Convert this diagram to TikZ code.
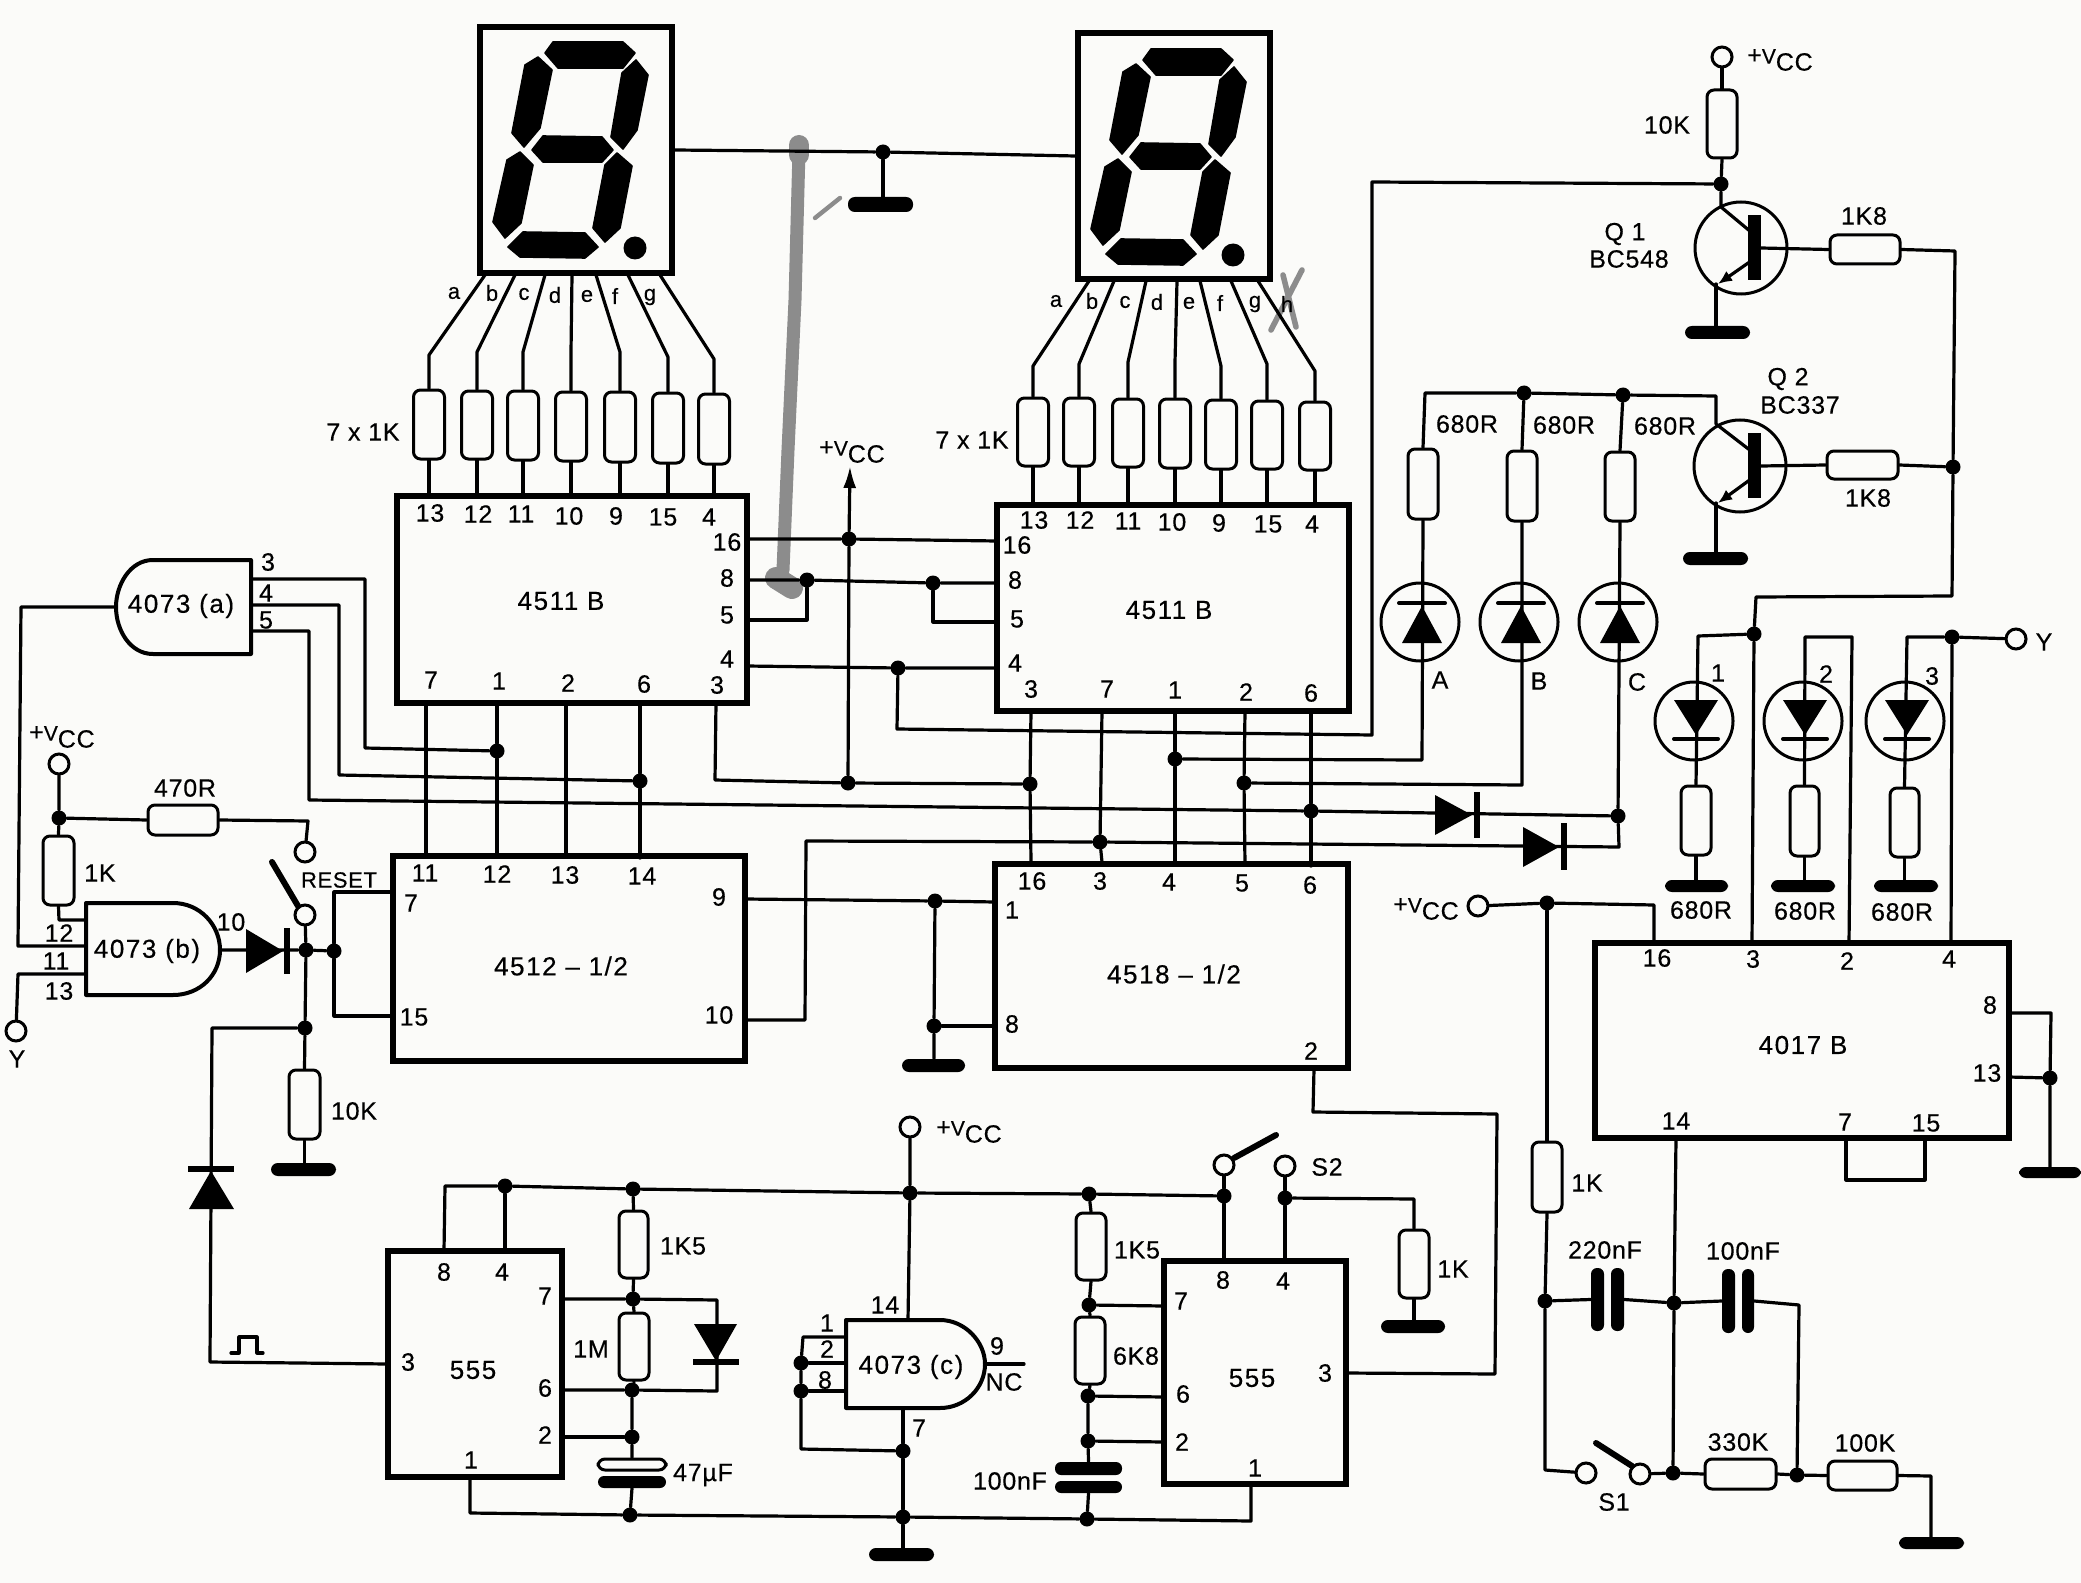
\documentclass[tikz,border=0pt]{standalone}
\usepackage{fontspec}
\setmainfont[FakeBold=0.4,LetterSpace=3]{Liberation Sans}
\newfontfamily\icfont[LetterSpace=6,FakeBold=0.4]{Liberation Sans}
\usetikzlibrary{arrows.meta}
\definecolor{paper}{RGB}{251,251,249}
\newcommand\cmpbox[6]{\pgfmathsetmacro\cmpx{(#3+#5)/2}\pgfmathsetmacro\cmpy{(#4+#6)/2}\pgfmathsetmacro\cmpw{abs(#5-#3)*0.5}\pgfmathsetmacro\cmph{abs(#6-#4)*0.5}\node[#1,minimum width=\cmpw pt,minimum height=\cmph pt] (#2) at (\cmpx,\cmpy) {};}
\newcommand\vccT{+{\fontsize{10.5}{10}\selectfont V}\raisebox{-3.5pt}{CC}}
\tikzset{
 wire/.style={line width=1.6pt,line join=round,line cap=round},
 heavy/.style={line width=3pt,line cap=round},
 icbox/.style={draw,line width=3.4pt,inner sep=0},
 dispbox/.style={draw,line width=2.8pt,inner sep=0},
 res/.style={draw,line width=1.5pt,rounded corners=3.5pt,inner sep=0},
 gnd/.style={fill=black,rounded corners=3.4pt,inner sep=0},
 plate/.style={fill=black,rounded corners=3pt,inner sep=0},
 jdot/.style={circle,fill=black,inner sep=0,minimum size=7.5pt},
 term/.style={circle,draw,line width=1.5pt,inner sep=0,minimum size=10pt},
 lampc/.style={circle,draw,line width=1.5pt,inner sep=0,minimum size=39pt},
 trans/.style={circle,draw,line width=1.5pt,inner sep=0,minimum size=46pt},
 gate/.style={draw,line width=2pt,line join=round},
 segm/.style={fill=black,draw=black,line width=0.8pt,line join=round},
 pinlbl/.style={font=\fontsize{12.5}{14}\selectfont,inner sep=0},
 smalllbl/.style={font=\fontsize{11}{13}\selectfont,inner sep=0},
 iclbl/.style={font=\fontsize{13}{15}\selectfont\icfont,inner sep=0},
 marker/.style={draw=black!45,line cap=round,line join=round},
 sevenseg/.pic={
  \path[segm] (545,53)--(553,42)--(623,42)--(635,53)--(623,68)--(558,68)--cycle;
  \path[segm] (636,60)--(648,75)--(637,130)--(623,149)--(611,137)--(622,73)--cycle;
  \path[segm] (538,57)--(552,70)--(540,128)--(524,147)--(512,133)--(525,65)--cycle;
  \path[segm] (532,150)--(543,136)--(602,137)--(613,150)--(602,162)--(543,162)--cycle;
  \path[segm] (520,152)--(533,165)--(521,223)--(505,238)--(493,222)--(507,160)--cycle;
  \path[segm] (617,153)--(632,166)--(620,228)--(605,242)--(593,228)--(605,165)--cycle;
  \path[segm] (508,247)--(523,232)--(585,233)--(598,247)--(585,258)--(520,257)--cycle;
  \fill[black] (635,248) circle[radius=11.5];
 }
}
\begin{document}
\begin{tikzpicture}[x=0.5pt,y=-0.5pt]
\path[use as bounding box,fill=paper] (0,0) rectangle (2081,1583);

% pen marks on the print
\draw[marker,line width=6.5pt] (799,150)--(795,300)--(788,450)--(783,570);
\draw[marker,line width=10pt] (799,145)--(799,155);
\draw[marker,line width=11pt] (776,578)--(792,588);
\draw[marker,line width=2.2pt] (815,218)--(840,198);
\draw[marker,line width=2.8pt] (1302,270)--(1271,330);
\draw[marker,line width=2.8pt] (1283,275)--(1296,327);

% displays
\cmpbox{dispbox}{D1}{480}{27}{672}{273}
\cmpbox{dispbox}{D2}{1078}{33}{1270}{279}
\pic {sevenseg};
\pic at (598,7) {sevenseg};

% integrated circuits
\cmpbox{icbox}{A}{397}{496}{747}{703}
\cmpbox{icbox}{B}{997}{505}{1349}{711}
\cmpbox{icbox}{C}{393}{856}{745}{1061}
\cmpbox{icbox}{E}{995}{864}{1348}{1068}
\cmpbox{icbox}{T1}{388}{1251}{562}{1477}
\cmpbox{icbox}{T2}{1164}{1261}{1346}{1484}
\cmpbox{icbox}{F}{1595}{943}{2009}{1138}

% gates
\draw[gate] (251,560)--(153,560) .. controls (130,560) and (116,585) .. (116,607) .. controls (116,630) and (130,654) .. (153,654)--(251,654)--cycle;
\draw[gate] (86,903)--(173,903) .. controls (200,903) and (220,925) .. (220,950) .. controls (220,975) and (200,995) .. (173,995)--(86,995)--cycle;
\draw[gate] (846,1320)--(940,1320) .. controls (965,1320) and (985,1342) .. (985,1364) .. controls (985,1388) and (965,1408) .. (940,1408)--(846,1408)--cycle;
\node[iclbl] (gatea) at (181,606) {4073 (a)};
\node[iclbl] (gateb) at (147,951) {4073 (b)};
\node[iclbl] (gatec) at (911,1367) {4073 (c)};

% segment resistors and their leads
\foreach \i/\t/\k/\x/\u/\v in {1/485/355/429/390/459,2/515/352/477/391/459,3/545/352/523/391/460,4/572/352/571/392/461,5/596/352/620/392/462,6/628/357/668/393/463,7/660/359/714/394/464}{
  \pgfmathsetmacro\xl{\x-15.5}\pgfmathsetmacro\xr{\x+15.5}
  \cmpbox{res}{ra\i}{\xl}{\u}{\xr}{\v}
  \draw[wire] (\t,275)--(\x,\k)--(ra\i.north);
  \draw[wire] (ra\i.south)--(ra\i.south |- A.north);
}
\foreach \i/\t/\k/\x/\u/\v in {1/1089/366/1033/398/466,2/1114/364/1079/398/466,3/1146/362/1128/399/467,4/1177/362/1175/399/468,5/1200/366/1221/400/469,6/1231/364/1267/401/469,7/1258/371/1315/402/470}{
  \pgfmathsetmacro\xl{\x-15.5}\pgfmathsetmacro\xr{\x+15.5}
  \cmpbox{res}{rb\i}{\xl}{\u}{\xr}{\v}
  \draw[wire] (\t,281)--(\x,\k)--(rb\i.north);
  \draw[wire] (rb\i.south)--(rb\i.south |- B.north);
}

% other resistors
\cmpbox{res}{r470}{148}{805}{218}{835}
\cmpbox{res}{rk}{43}{836}{74}{905}
\cmpbox{res}{rten}{289}{1070}{320}{1139}
\cmpbox{res}{rfa}{619}{1211}{648}{1278}
\cmpbox{res}{rm}{619}{1313}{649}{1380}
\cmpbox{res}{rfb}{1076}{1213}{1106}{1280}
\cmpbox{res}{rsk}{1075}{1317}{1105}{1384}
\cmpbox{res}{rs}{1399}{1230}{1429}{1298}
\cmpbox{res}{rv}{1707}{90}{1737}{158}
\cmpbox{res}{rqa}{1830}{235}{1900}{264}
\cmpbox{res}{rqb}{1827}{451}{1898}{479}
\cmpbox{res}{rA}{1408}{449}{1438}{519}
\cmpbox{res}{rB}{1507}{451}{1537}{521}
\cmpbox{res}{rC}{1605}{452}{1635}{521}
\cmpbox{res}{rla}{1681}{786}{1711}{855}
\cmpbox{res}{rlb}{1790}{786}{1819}{856}
\cmpbox{res}{rlc}{1890}{788}{1919}{857}
\cmpbox{res}{rkc}{1532}{1142}{1562}{1212}
\cmpbox{res}{rth}{1705}{1459}{1776}{1489}
\cmpbox{res}{rhu}{1828}{1461}{1897}{1490}

% grounds
\cmpbox{gnd}{ga}{848}{197}{913}{212}
\cmpbox{gnd}{gb}{902}{1059}{965}{1072}
\cmpbox{gnd}{gc}{271}{1163}{336}{1176}
\cmpbox{gnd}{gd}{869}{1548}{934}{1561}
\cmpbox{gnd}{ge}{1381}{1320}{1445}{1333}
\cmpbox{gnd}{gf}{1685}{326}{1750}{339}
\cmpbox{gnd}{gg}{1683}{552}{1748}{565}
\cmpbox{gnd}{gh}{1665}{880}{1728}{892}
\cmpbox{gnd}{gi}{1771}{880}{1835}{892}
\cmpbox{gnd}{gj}{1874}{880}{1938}{892}
\cmpbox{gnd}{gk}{2019}{1167}{2081}{1178}
\cmpbox{gnd}{gl}{1899}{1537}{1964}{1549}

% capacitors
\cmpbox{res}{cua}{598}{1459}{666}{1470}
\cmpbox{plate}{cub}{598}{1476}{666}{1488}
\cmpbox{plate}{cna}{1055}{1462}{1122}{1475}
\cmpbox{plate}{cnb}{1055}{1481}{1122}{1493}
\cmpbox{plate}{cpa}{1591}{1268}{1604}{1331}
\cmpbox{plate}{cpb}{1611}{1268}{1624}{1331}
\cmpbox{plate}{cqa}{1722}{1269}{1735}{1333}
\cmpbox{plate}{cqb}{1742}{1269}{1754}{1333}

% terminals
\node[term] (tvl) at (59,764) {};
\node[term] (trs) at (305,852) {};
\node[term] (tsw) at (305,915) {};
\node[term] (tyl) at (16,1031) {};
\node[term] (tvc) at (910,1127) {};
\node[term] (tsa) at (1224,1165) {};
\node[term] (tsb) at (1285,1166) {};
\node[term] (tvq) at (1722,57) {};
\node[term] (tyr) at (2016,639) {};
\node[term] (tvf) at (1478,906) {};
\node[term] (tsc) at (1586,1473) {};
\node[term] (tsd) at (1640,1474) {};

% junctions
\foreach \n/\x/\y in {jc/883/152,j16/849/539,j8a/807/580,j8b/933/583,j4b/898/668,jab/848/783,jb3/1030/784,
  jsa/497/751,jsb/640/781,j7/1100/842,jA/1175/759,jB/1244/783,j6/1311/811,jg/935/901,jgb/934/1026,
  jv/59/818,jd/306/950,jr/334/951,jl/305/1028,
  ra/505/1186,rb/633/1189,rc/910/1193,rd/1089/1194,re/1224/1196,js/1285/1198,
  jsev/633/1299,jsix/632/1390,jtwo/632/1437,jba/630/1515,jbb/903/1517,jbc/1087/1519,
  jcd/801/1363,jce/801/1391,jcf/903/1451,
  juv/1089/1305,jus/1088/1396,jut/1088/1441,
  jqa/1721/184,jqb/1953/467,jrb/1524/393,jrc/1623/395,jdc/1618/816,
  jla/1754/634,jy/1952/637,jvf/1547/903,jk/1545/1301,jfa/1674/1303,jfb/1673/1473,jfc/1797/1475,jfd/2050/1078}{
  \node[jdot] (\n) at (\x,\y) {};
}

% pin points
\foreach \n/\x/\y in {a16/747/539,a8/747/580,a5/747/620,a4/747/666,a3/716/703,a7/426/703,a1/497/703,a2/566/703,a6/640/703,
  b16/997/541,b8/997/583,b5/997/622,b4/997/668,b3/1031/711,b7/1102/711,b1/1175/711,b2/1245/711,b6/1311/711,
  c11/426/855,c12/497/856,c13/566/857,c14/640/858,c7/393/892,c15/393/1016,c9/745/899,c10/745/1020,
  e16/1031/862,e3/1102/862,e4/1175/864,e5/1245/865,e6/1311/866,e1/995/902,e8/995/1026,e2/1314/1069,
  tah/444/1251,taf/505/1251,tas/562/1299,tax/562/1390,tat/562/1437,tao/470/1477,tac/388/1364,
  tbh/1224/1261,tbf/1285/1261,tbs/1164/1306,tbx/1164/1397,tbt/1164/1442,tbo/1251/1484,tbc/1346/1373,
  f16/1654/943,f3/1752/943,f2/1849/943,f4/1951/943,f8/2009/1013,f13/2009/1077,f14/1676/1138,f7/1846/1138,f15/1925/1138,
  gaa/251/579,gab/251/605,gac/251/631,gao/116/607,gbb/84/920,gbc/84/946,gbd/84/974,gbo/220/950,
  gcv/908/1320,gcg/903/1408,gcp/846/1337,gcq/846/1363,gcr/846/1391,gco/985/1364,gcn/1024/1364,
  vtip/850/466}{
  \coordinate (\n) at (\x,\y);
}

% wires: displays
\draw[wire] (D1.east)--(jc)--(D2.west);
\draw[wire] (jc)--(jc |- ga.north);

% wires: 4511 to 4511
\draw[wire] (a16)--(j16)--(b16);
\draw[wire,-{Latex[length=11pt,width=6.5pt]}] (jab)--(j16)--(vtip);
\draw[wire] (a8)--(j8a)--(j8b)--(b8);
\draw[wire] (a5)--(807,620)--(j8a);
\draw[wire] (j8b)--(933,622)--(b5);
\draw[wire] (a4)--(j4b)--(b4);
\draw[wire] (j4b)--(897,729)--(1372,735)--(1372,182)--(jqa);
\draw[wire] (a3)--(715,780)--(jab)--(jb3);
\draw[wire] (b3)--(jb3)--(e16);
\draw[wire] (b7)--(j7)--(e3);
\draw[wire] (b1)--(jA)--(e4);
\draw[wire] (b2)--(jB)--(e5);
\draw[wire] (b6)--(j6)--(e6);
\draw[wire] (a7)--(c11);
\draw[wire] (a1)--(jsa)--(c12);
\draw[wire] (a2)--(c13);
\draw[wire] (a6)--(jsb)--(c14);

% wires: 4073 (a)
\draw[wire] (gaa)--(365,579)--(365,748)--(jsa);
\draw[wire] (gab)--(339,605)--(339,775)--(jsb);
\draw[wire] (gac)--(309,631)--(309,800)--(j6)--(jdc);
\draw[wire] (gao)--(21,607)--(18,946)--(gbc);

% wires: 4073 (b), reset
\draw[wire] (tvl)--(jv)--(rk.north);
\draw[wire] (jv)--(r470.west);
\draw[wire] (r470.east)--(308,821)--(trs);
\draw[wire] (rk.south)--(59,920)--(gbb);
\draw[wire] (gbd)--(18,974)--(tyl);
\draw[wire] (gbo)--(jd)--(jr);
\draw[wire] (tsw)--(jd)--(jl)--(rten.north);
\draw[wire] (rten.south)--(rten.south |- gc.north);
\draw[wire] (jr)--(334,892)--(c7);
\draw[wire] (jr)--(334,1016)--(c15);
\draw[wire] (jl)--(212,1028)--(210,1362)--(tac);
\draw[heavy] (tsw)++(-7,-9)--(272,862);

% wires: 4512 to 4518
\draw[wire] (c9)--(jg)--(e1);
\draw[wire] (jg)--(jgb)--(jgb |- gb.north);
\draw[wire] (jgb)--(e8);
\draw[wire] (c10)--(805,1020)--(806,841)--(j7)--(1619,847)--(jdc)--(rC.south);
\draw[wire] (e2)--(1313,1112)--(1497,1114)--(1495,1374)--(tbc);

% wires: lamps A, B, C
\draw[wire] (jA)--(1422,760)--(rA.south);
\draw[wire] (jB)--(1522,785)--(rB.south);
\draw[wire] (rA.north)--(1425,393)--(jrb)--(jrc)--(1716,396)--(1716,424)--(1751,451);
\draw[wire] (jrb)--(rB.north);
\draw[wire] (jrc)--(rC.north);

% wires: transistors
\draw[wire] (tvq)--(rv.north);
\draw[wire] (rv.south)--(jqa)--(1721,207)--(1751,232);
\draw[wire,-{Latex[length=7pt,width=6pt]}] (1751,261)--(1718,284);
\draw[wire] (1716,284)--(1716,326);
\draw[wire] (1761,248)--(rqa.west);
\draw[wire] (rqa.east)--(1955,251)--(jqb)--(1952,596)--(1756,597)--(jla)--(f3);
\draw[wire,-{Latex[length=7pt,width=6pt]}] (1751,479)--(1718,503);
\draw[wire] (1716,503)--(1716,552);
\draw[wire] (1761,466)--(rqb.west);
\draw[wire] (rqb.east)--(jqb);

% wires: lamps 1, 2, 3
\draw[wire] (jla)--(1698,636)--(rla.north);
\draw[wire] (f2)--(1852,637)--(1805,637)--(rlb.north);
\draw[wire] (rlc.north)--(1907,637)--(jy)--(tyr);
\draw[wire] (jy)--(f4);
\draw[wire] (rla.south)--(rla.south |- gh.north);
\draw[wire] (rlb.south)--(rlb.south |- gi.north);
\draw[wire] (rlc.south)--(rlc.south |- gj.north);

% wires: 4017
\draw[wire] (tvf)--(jvf)--(1654,905)--(f16);
\draw[wire] (jvf)--(rkc.north);
\draw[wire] (rkc.south)--(jk)--(1545,1470)--(tsc);
\draw[wire] (jk)--(cpa.west);
\draw[wire] (cpb.east)--(jfa)--(cqa.west);
\draw[wire] (f14)--(jfa)--(jfb);
\draw[wire] (cqb.east)--(1799,1305)--(jfc);
\draw[wire] (tsd)--(jfb)--(rth.west);
\draw[wire] (rth.east)--(jfc)--(rhu.west);
\draw[wire] (rhu.east)--(1931,1476)--(1931,1537);
\draw[wire] (f8)--(2051,1013)--(jfd)--(2050,1167);
\draw[wire] (f13)--(jfd);
\draw[wire] (f7)--(1846,1180)--(1925,1180)--(f15);
\draw[heavy] (1596,1443)--(1632,1466);

% wires: rail
\draw[wire] (tah)--(445,1186)--(ra)--(rb)--(rc)--(rd)--(re);
\draw[wire] (ra)--(taf);
\draw[wire] (rb)--(rfa.north);
\draw[wire] (rfa.south)--(jsev)--(rm.north);
\draw[wire] (rm.south)--(jsix)--(jtwo)--(cua.north);
\draw[wire] (cub.south)--(jba);
\draw[wire] (tas)--(jsev)--(717,1300)--(717,1391)--(jsix)--(tax);
\draw[wire] (tat)--(jtwo);
\draw[wire] (tao)--(470,1513)--(jba)--(jbb)--(jbc)--(1251,1521)--(tbo);
\draw[wire] (tvc)--(rc)--(gcv);
\draw[wire] (gcg)--(jcf)--(jbb)--(jbb |- gd.north);
\draw[wire] (gcp)--(803,1337)--(jcd)--(jce)--(801,1449)--(jcf);
\draw[wire] (gcq)--(jcd);
\draw[wire] (gcr)--(jce);
\draw[wire] (gco)--(gcn);

% wires: second 555
\draw[wire] (tsa)--(re)--(tbh);
\draw[heavy] (1234,1158)--(1276,1135);
\draw[wire] (tsb)--(js)--(tbf);
\draw[wire] (js)--(1414,1199)--(rs.north);
\draw[wire] (rs.south)--(rs.south |- ge.north);
\draw[wire] (rd)--(rfb.north);
\draw[wire] (rfb.south)--(juv)--(rsk.north);
\draw[wire] (rsk.south)--(jus)--(jut)--(cna.north);
\draw[wire] (cnb.south)--(jbc);
\draw[wire] (juv)--(tbs);
\draw[wire] (jus)--(tbx);
\draw[wire] (jut)--(tbt);

% pulse symbol
\draw[wire] (231,1353)--(239,1353)--(239,1337)--(257,1337)--(257,1353)--(263,1353);

% plain diodes
\fill[black] (246,929)--(283,951)--(246,973)--cycle;
\draw[heavy,line cap=butt] (287,928)--(287,974);
\fill[black] (1435,795)--(1472,815)--(1435,835)--cycle;
\draw[heavy,line cap=butt] (1477,792)--(1477,838);
\fill[black] (1523,827)--(1559,847)--(1523,867)--cycle;
\draw[heavy,line cap=butt] (1564,823)--(1564,870);
\fill[black] (189,1209)--(234,1209)--(211,1171)--cycle;
\draw[heavy,line cap=butt] (188,1169)--(234,1169);
\fill[black] (694,1324)--(737,1324)--(716,1361)--cycle;
\draw[heavy,line cap=butt] (693,1362)--(739,1362);

% transistors
\node[trans] (qa) at (1741,248) {};
\fill[black] (1748,215) rectangle (1761,280);
\node[trans] (qb) at (1740,466) {};
\fill[black] (1748,433) rectangle (1761,498);

% lamps pointing up
\foreach \n/\x in {la/1420,lb/1519,lc/1618}{
  \node[lampc] (\n) at (\x,622) {};
  \fill[black] (\x+2-20,643)--(\x+2+20,643)--(\x+2,606)--cycle;
  \draw[wire,line width=2pt] (\x+2-23,603)--(\x+2+23,603);
}
% lamps pointing down
\foreach \n/\x in {ld/1694,le/1803,lf/1905}{
  \node[lampc] (\n) at (\x,721) {};
  \fill[black] (\x+2-22,700)--(\x+2+22,700)--(\x+2,735)--cycle;
  \draw[wire,line width=2pt] (\x+2-22,739)--(\x+2+22,739);
}

% pin numbers
\foreach \x/\y/\t [count=\n] in {
 430/513/13,478/514/12,521/514/11,569/516/10,616/516/9,663/517/15,709/517/4,
 727/542/16,727/578/8,727/615/5,727/659/4,717/685/3,431/680/7,499/681/1,568/683/2,644/684/6,
 1034/520/13,1080/520/12,1128/521/11,1172/522/10,1219/523/9,1268/524/15,1312/524/4,
 1017/545/16,1015/580/8,1017/619/5,1015/663/4,1031/689/3,1107/689/7,1175/690/1,1246/692/2,1311/693/6,
 425/873/11,497/874/12,565/875/13,642/876/14,411/903/7,414/1017/15,719/897/9,719/1015/10,
 1032/881/16,1100/881/3,1169/882/4,1242/883/5,1310/885/6,1012/910/1,1012/1024/8,1311/1051/2,
 268/562/3,266/593/4,266/620/5,59/933/12,56/961/11,59/991/13,231/922/10,
 444/1272/8,502/1272/4,545/1296/7,408/1362/3,545/1388/6,545/1435/2,471/1460/1,
 885/1305/14,827/1323/1,827/1349/2,825/1380/8,919/1428/7,997/1346/9,
 1223/1280/8,1283/1281/4,1181/1301/7,1325/1373/3,1183/1394/6,1182/1442/2,1255/1468/1,
 1657/958/16,1753/959/3,1847/961/2,1949/959/4,1990/1005/8,1987/1073/13,1676/1121/14,1845/1122/7,1926/1123/15,
 1718/673/1,1826/674/2,1932/676/3}{
  \node[pinlbl] (pn\n) at (\x,\y) {\t};
}

% segment letters
\foreach \x/\y/\t [count=\n] in {
 454/293/a,492/293/b,524/294/c,555/295/d,587/296/e,615/296/f,650/297/g,
 1056/301/a,1092/301/b,1125/302/c,1157/302/d,1189/303/e,1220/303/f,1255/304/g,1287/304/h}{
  \node[smalllbl] (sl\n) at (\x,\y) {\t};
}

% IC names
\node[iclbl] (na) at (561,601) {4511 B};
\node[iclbl] (nb) at (1169,610) {4511 B};
\node[iclbl] (nc) at (561,966) {4512 – 1/2};
\node[iclbl] (ne) at (1174,974) {4518 – 1/2};
\node[iclbl] (nt) at (473,1370) {555};
\node[iclbl] (nu) at (1252,1378) {555};
\node[iclbl] (nf) at (1803,1045) {4017 B};

% values
\foreach \x/\y/\t [count=\n] in {
 363/432/7 x 1K,972/440/7 x 1K,185/788/470R,100/873/1K,354/1111/10K,
 683/1246/1K5,591/1349/1M,703/1475/47µF,1137/1250/1K5,1136/1356/6K8,1010/1481/100nF,1453/1269/1K,
 1667/125/10K,1864/216/1K8,1868/498/1K8,1467/424/680R,1564/425/680R,1665/426/680R,
 1701/910/680R,1805/911/680R,1902/912/680R,1587/1183/1K,1605/1250/220nF,1743/1251/100nF,
 1738/1442/330K,1865/1443/100K}{
  \node[pinlbl] (vl\n) at (\x,\y) {\t};
}

% names and supply labels
\foreach \x/\y/\t [count=\n] in {
 1625/234/Q 1,1629/259/BC548,1788/379/Q 2,1800/405/BC337,
 1440/680/A,1539/681/B,1637/682/C,17/1059/Y,2044/642/Y,
 1327/1167/S2,1614/1502/S1,1004/1382/NC}{
  \node[pinlbl] (mk\n) at (\x,\y) {\t};
}
\node[smalllbl] (rsttxt) at (339,880) {RESET};
\foreach \x/\y [count=\n] in {62/737,852/452,969/1132,1780/60,1426/909}{
  \node[pinlbl] (vc\n) at (\x,\y) {\vccT};
}
\end{tikzpicture}
\end{document}
